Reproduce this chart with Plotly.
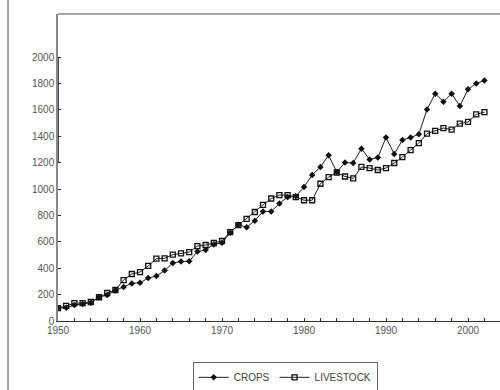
import plotly.graph_objects as go

years = list(range(1950, 2003))
crops = [98, 100, 121, 129, 138, 180, 197, 232, 258, 285,
         290, 325, 341, 382, 439, 450, 452, 527, 538, 580,
         592, 668, 730, 710, 760, 830, 830, 890, 939, 945,
         1015, 1106, 1167, 1255, 1129, 1200, 1197, 1306, 1224, 1238,
         1390, 1265, 1371, 1390, 1415, 1603, 1722, 1662, 1722, 1629,
         1755, 1800, 1822]
livestock = [98, 114, 136, 136, 144, 180, 212, 235, 310, 356,
             371, 417, 472, 475, 503, 512, 522, 568, 576, 591,
             606, 674, 727, 773, 826, 880, 928, 954, 954, 939,
             915, 915, 1040, 1090, 1125, 1095, 1080, 1167, 1159, 1144,
             1159, 1197, 1242, 1295, 1348, 1420, 1440, 1462, 1450, 1495,
             1508, 1565, 1583]
x_ticks = [1950, 1960, 1970, 1980, 1990, 2000]
y_ticks = list(range(0, 2001, 200))

fig = go.Figure()
fig.add_trace(go.Scatter(x=years, y=crops, name="CROPS", mode="lines+markers",
                         line=dict(color="#222", width=1),
                         marker=dict(symbol="diamond", size=5, color="#111")))
fig.add_trace(go.Scatter(x=years, y=livestock, name="LIVESTOCK", mode="lines+markers",
                         line=dict(color="#222", width=1),
                         marker=dict(symbol="square-open", size=5, color="#111",
                                     line=dict(width=1.3))))

font_col = "#555"
fig.update_layout(
    width=500, height=390,
    margin=dict(l=58, r=0, t=14, b=69, autoexpand=False),
    paper_bgcolor="white", plot_bgcolor="white",
    font=dict(family="Liberation Sans, Arial, sans-serif", size=10, color=font_col),
    showlegend=True,
    legend=dict(orientation="h", x=0.514, xanchor="center", y=-0.133, yanchor="top",
                bordercolor="#666", borderwidth=1, bgcolor="white",
                font=dict(size=10, color="#444"), itemwidth=30,
                tracegroupgap=0),
    xaxis=dict(range=[1950, 2003.9], tickvals=x_ticks, ticks="inside", ticklen=3,
               tickcolor="#333", showgrid=False, zeroline=False,
               showline=True, linecolor="#333", linewidth=1,
               minor=dict(dtick=2, tick0=1950, ticks="inside", ticklen=3, tickcolor="#333"),
               tickfont=dict(size=10, color=font_col)),
    yaxis=dict(range=[0, 2326], tickvals=y_ticks, ticks="inside", ticklen=3,
               tickcolor="#333", showgrid=False, zeroline=False,
               showline=True, linecolor="#888", linewidth=1.5,
               tickfont=dict(size=10, color=font_col)),
    shapes=[
        dict(type="line", xref="paper", yref="paper", x0=0, x1=1.0, y0=1, y1=1,
             line=dict(color="#888", width=1.5)),
        dict(type="line", xref="x", yref="y", x0=1950, x1=1950, y0=1200, y1=2000,
             line=dict(color="#111", width=1.5)),
        dict(type="line", xref="paper", yref="paper", x0=-0.113, x1=-0.113, y0=-0.3, y1=1.05,
             line=dict(color="#888", width=1.5)),
    ],
)

fig.write_html("out.html", config={"displayModeBar": False},
               post_script="document.body.style.margin='0';")
